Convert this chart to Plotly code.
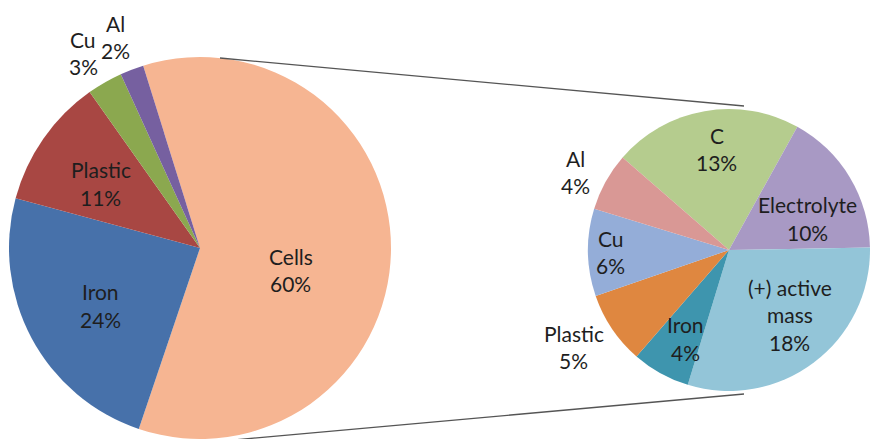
import math
import plotly.graph_objects as go

W, H = 870, 439

# Data
left_labels = ["Cells", "Iron", "Plastic", "Cu", "Al"]
left_values = [60, 24, 11, 3, 2]
left_colors = ["#F6B592", "#4771AA", "#A84743", "#8BA84F", "#7660A0"]

right_labels = ["C", "Electrolyte", "(+) active mass", "Iron", "Plastic", "Cu", "Al"]
right_values = [13, 10, 18, 4, 5, 6, 4]
right_colors = ["#B5CC8E", "#A899C4", "#93C5D8", "#3E95AE", "#DF8740", "#94ADD8", "#D99895"]

# Label placement style (radius fraction, angle offset deg) per slice
left_label_r = [0.49, 0.60, 0.62, 1.19, 1.19]
left_label_da = [13, -2, -2, -1, -1]
right_label_r = [0.72, 0.60, 0.63, 0.70, 1.30, 0.84, 1.22]
right_label_da = [3, 9, -6, -3, 2, 0, -2]
left_label_lines = [["Cells"], ["Iron"], ["Plastic"], ["Cu"], ["Al"]]
right_label_lines = [["C"], ["Electrolyte"], ["(+) active", "mass"], ["Iron"], ["Plastic"], ["Cu"], ["Al"]]

# Geometry (pixels)
Lcx, Lcy, Lr, Lrot = 200, 248, 191, -17.3
Rcx, Rcy, Rr, Rrot = 729, 250, 141, -49


def dom(cx, cy, r):
    return dict(x=[(cx - r) / W, min(1.0, (cx + r) / W)],
                y=[(H - (cy + r)) / H, (H - (cy - r)) / H])


def px(x, y):
    return x / W, (H - y) / H


FONT = "Lato, 'Open Sans', sans-serif"
FS = 21
LINE = 27.5
TXT = "#1e1e1e"

fig = go.Figure()
for labels, values, colors, (cx, cy, r, rot) in [
    (left_labels, left_values, left_colors, (Lcx, Lcy, Lr, Lrot)),
    (right_labels, right_values, right_colors, (Rcx, Rcy, Rr, Rrot)),
]:
    fig.add_trace(go.Pie(
        labels=labels, values=values, sort=False, direction="clockwise",
        rotation=rot, domain=dom(cx, cy, r),
        marker=dict(colors=colors, line=dict(width=0)),
        textinfo="none", showlegend=False, hoverinfo="label+value",
    ))


def add_labels(values, lines_list, rfrac, dang, cx, cy, r, rot):
    total = sum(values)
    cum = 0
    for v, lines, rf, da in zip(values, lines_list, rfrac, dang):
        mid = rot + (cum + v / 2) / total * 360 + da
        cum += v
        a = math.radians(mid)
        x = cx + rf * r * math.sin(a)
        y = cy - rf * r * math.cos(a)
        texts = lines + [f"{v}%"]
        n = len(texts)
        for i, t in enumerate(texts):
            yy = y + (i - (n - 1) / 2) * LINE
            xp, yp = px(x, yy)
            fig.add_annotation(x=xp, y=yp, xref="paper", yref="paper", text=t,
                               showarrow=False, xanchor="center", yanchor="middle",
                               font=dict(family=FONT, size=FS, color=TXT))


add_labels(left_values, left_label_lines, left_label_r, left_label_da, Lcx, Lcy, Lr, Lrot)
add_labels(right_values, right_label_lines, right_label_r, right_label_da, Rcx, Rcy, Rr, Rrot)

# connector lines between pies
x0, y0 = px(Lcx + 20, Lcy - Lr + 1)
x1, y1 = px(Rcx + 15, Rcy - Rr - 3)
fig.add_shape(type="line", xref="paper", yref="paper", x0=x0, y0=y0, x1=x1, y1=y1,
              line=dict(color="#555555", width=1.3))
x0, y0 = px(Lcx, Lcy + Lr + 4)
x1, y1 = px(Rcx + 15, Rcy + Rr + 3)
fig.add_shape(type="line", xref="paper", yref="paper", x0=x0, y0=y0, x1=x1, y1=y1,
              line=dict(color="#555555", width=1.3))

fig.update_layout(width=W, height=H, margin=dict(l=0, r=0, t=0, b=0),
                  paper_bgcolor="white", plot_bgcolor="white")
fig.write_html("out.html")
